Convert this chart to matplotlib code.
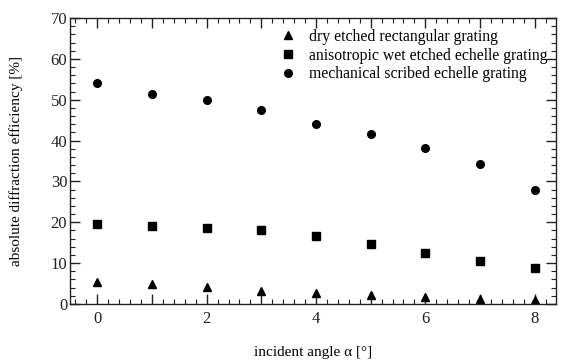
import matplotlib
matplotlib.use("Agg")
import matplotlib.pyplot as plt
from matplotlib.ticker import MultipleLocator

# incident angle (deg)
angles = [0, 1, 2, 3, 4, 5, 6, 7, 8]
# efficiency [%]
dry_rect = [5.5, 4.8, 4.1, 3.3, 2.8, 2.1, 1.7, 1.2, 1.0]
wet_echelle = [19.6, 19.2, 18.7, 18.0, 16.7, 14.8, 12.6, 10.6, 8.7]
mech_echelle = [54.0, 51.3, 49.9, 47.6, 44.0, 41.5, 38.1, 34.3, 27.8]

plt.rcParams['font.family'] = ['Liberation Serif', 'DejaVu Serif']

fig = plt.figure(figsize=(5.61, 3.6), dpi=100)
ax = fig.add_axes([0.1248, 0.1556, 0.8662, 0.7944])

ax.plot(angles, dry_rect, '^', color='black', ms=6, label='dry etched rectangular grating')
ax.plot(angles, wet_echelle, 's', color='black', ms=5.5, label='anisotropic wet etched echelle grating')
ax.plot(angles, mech_echelle, 'o', color='black', ms=5.5, label='mechanical scribed echelle grating')

ax.set_xlim(-0.5, 8.39)
ax.set_ylim(0, 70)
ax.xaxis.set_major_locator(MultipleLocator(1))
ax.xaxis.set_major_formatter(plt.FuncFormatter(lambda v, p: '%d' % v if int(round(v)) % 2 == 0 else ''))
ax.xaxis.set_minor_locator(MultipleLocator(0.2))
ax.yaxis.set_major_locator(MultipleLocator(10))
ax.yaxis.set_minor_locator(MultipleLocator(2))
ax.tick_params(which='both', direction='in', top=True, right=True, labelsize=12, colors='#222222')
ax.tick_params(which='major', length=7, width=1)
ax.tick_params(which='minor', length=3.5, width=0.8)
ax.tick_params(axis='x', pad=5)
ax.tick_params(axis='y', pad=2)
for s in ax.spines.values():
    s.set_linewidth(1)
    s.set_color('#222222')

ax.set_xlabel('incident angle α [°]', fontsize=11, labelpad=14)
ax.set_ylabel('absolute diffraction efficiency [%]', fontsize=11, labelpad=20)

ax.legend(loc='upper right', frameon=False, fontsize=11.3, handletextpad=0.75,
          borderaxespad=0.2, labelspacing=0.18, handlelength=1.2,
          bbox_to_anchor=(1.002, 0.995))

fig.savefig('out.png', dpi=100)
